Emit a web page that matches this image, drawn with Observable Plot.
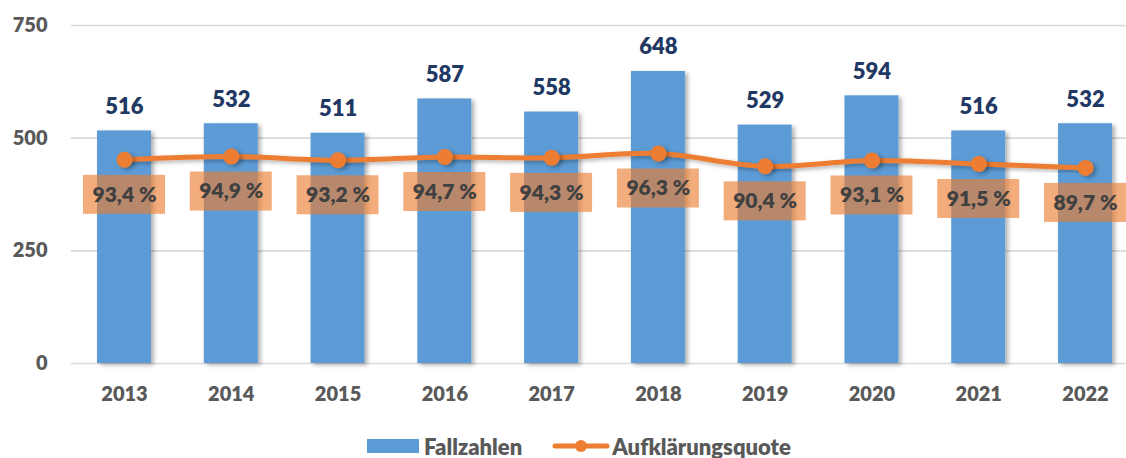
<!DOCTYPE html>
<html>
<head>
<meta charset="utf-8">
<script src="https://cdn.jsdelivr.net/npm/d3@7"></script>
<script src="https://cdn.jsdelivr.net/npm/@observablehq/plot@0.6"></script>
<style>
  html, body { margin: 0; padding: 0; background: #fff; }
  #chart { width: 1126px; height: 458px; position: relative; overflow: hidden; }
  .legend { position: absolute; left: 367px; top: 431px; display: flex; align-items: center;
            font-family: Lato, "Open Sans", sans-serif; font-weight: 800; font-size: 22px; color: #595959;
            height: 30px; }
  .legend .item { display: flex; align-items: center; gap: 5px; }
  .legend .item + .item { margin-left: 30px; }
  .swatch-bar { width: 52px; height: 14px; background: #5b9bd5; }
</style>
</head>
<body>
<div id="chart"></div>
<script>
const years = ["2013","2014","2015","2016","2017","2018","2019","2020","2021","2022"];
const fallzahlen = [516, 532, 511, 587, 558, 648, 529, 594, 516, 532];
const quote = [93.4, 94.9, 93.2, 94.7, 94.3, 96.3, 90.4, 93.1, 91.5, 89.7];
const yTicks = [0, 250, 500, 750];
const seriesNames = ["Fallzahlen", "Aufklärungsquote"];
const pctAxisMax = 155; // secondary axis maximum (%), aligned with 750 on the primary axis

const blue = "#5b9bd5", orange = "#ed7d31", navy = "#1f3864", gray = "#595959";
const font = "Lato, 'Open Sans', sans-serif";

const yTop = 25, yBottom = 363;
const pxPerUnit = (yBottom - yTop) / 750;

const data = years.map((y, i) => ({
  year: y,
  n: fallzahlen[i],
  q: quote[i],
  qy: quote[i] / pctAxisMax * 750,
  label: quote[i].toFixed(1).replace(".", ",") + " %"
}));

const boxOffset = 35, boxHalf = 19.5;

const plot = Plot.plot({
  width: 1126,
  height: 428,
  marginLeft: 71,
  marginRight: 0,
  marginTop: yTop,
  marginBottom: 428 - yBottom,
  style: { fontFamily: font, background: "transparent", overflow: "visible" },
  x: { type: "band", domain: years, range: [70.6, 1138.4], padding: 0, round: false, align: 0.5, label: null },
  y: { domain: [0, 750], range: [yBottom, yTop], label: null },
  marks: [
    Plot.ruleY(yTicks, { stroke: "#d9d9d9", strokeWidth: 1.6 }),
    Plot.barY(data, { x: "year", y: "n", fill: blue, insetLeft: 26.4, insetRight: 26.4 }),
    Plot.text(data, { x: "year", y: "n", text: d => String(d.n), dy: -17, lineAnchor: "bottom",
      fill: navy, fontWeight: 800, fontSize: 22 }),
    Plot.line(data, { x: "year", y: "qy", stroke: orange, strokeWidth: 5, curve: "catmull-rom" }),
    Plot.dot(data, { x: "year", y: "qy", r: 8, fill: orange, stroke: "none" }),
    Plot.barY(data, { x: "year",
      y1: d => d.qy - (boxOffset + boxHalf) / pxPerUnit,
      y2: d => d.qy - (boxOffset - boxHalf) / pxPerUnit,
      fill: orange, fillOpacity: 0.64, insetLeft: 12.4, insetRight: 12.4 }),
    Plot.text(data, { x: "year", y: "qy", text: "label", dy: boxOffset, fill: "#404040",
      fontWeight: 800, fontSize: 21 }),
    Plot.axisY(yTicks, { tickSize: 0, tickPadding: 24, fontSize: 20, fontWeight: 800, fill: gray, label: null }),
    Plot.axisX({ tickSize: 0, tickPadding: 23, fontSize: 20, fontWeight: 800, fill: gray, label: null })
  ]
});

// soft drop shadow like the original
const svg = d3.select(plot);
const defs = svg.insert("defs", ":first-child");
const f = defs.append("filter").attr("id", "shadow").attr("x", "-20%").attr("y", "-20%").attr("width", "150%").attr("height", "150%");
f.append("feDropShadow").attr("dx", 3).attr("dy", 2).attr("stdDeviation", 2).attr("flood-color", "#000").attr("flood-opacity", 0.3);
const groups = plot.querySelectorAll("g[aria-label='bar']");
if (groups[0]) groups[0].setAttribute("filter", "url(#shadow)");
const lineG = plot.querySelector("g[aria-label='line']");
if (lineG) lineG.setAttribute("filter", "url(#shadow)");
const dotG = plot.querySelector("g[aria-label='dot']");
if (dotG) dotG.setAttribute("filter", "url(#shadow)");

const chart = document.getElementById("chart");
chart.appendChild(plot);

const legend = document.createElement("div");
legend.className = "legend";
legend.innerHTML = `
  <div class="item"><div class="swatch-bar"></div><span>${seriesNames[0]}</span></div>
  <div class="item"><svg width="58" height="18" style="margin-right:-3px"><line x1="3" y1="9" x2="55" y2="9" stroke="${orange}" stroke-width="5" stroke-linecap="round"/><circle cx="29" cy="9" r="6" fill="${orange}"/></svg><span>${seriesNames[1]}</span></div>`;
chart.appendChild(legend);
</script>
</body>
</html>
